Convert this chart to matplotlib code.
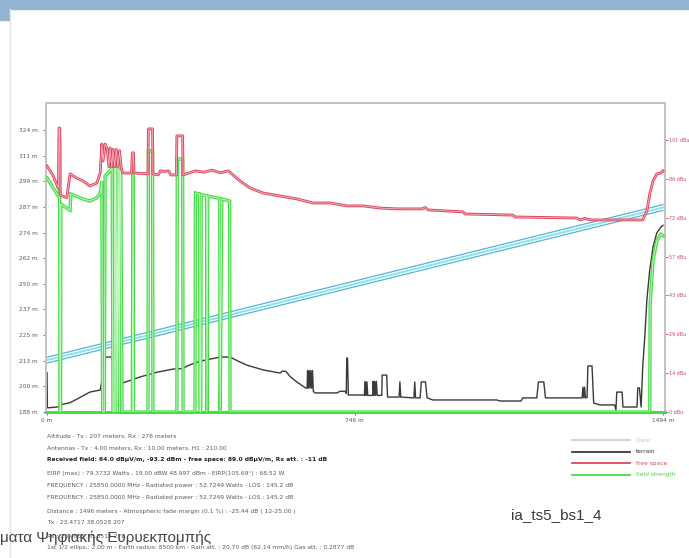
import matplotlib
matplotlib.use("Agg")
import matplotlib.pyplot as plt
from matplotlib.lines import Line2D
from matplotlib.patches import Rectangle

plt.rcParams['font.family'] = ['DejaVu Sans']

W, H = 689, 558

# ---------------- data ----------------
# terrain profile (distance m, elevation m)
terrain_d = [0, 1, 30, 31, 33, 34, 56, 80, 104, 129,
             133, 136, 141, 162, 166, 168, 184, 226, 267, 306,
             330, 340, 371, 420, 444, 468, 485, 524, 565, 572,
             580, 590, 606, 628, 631, 632, 634, 636, 638, 640,
             642, 644, 646, 650, 703, 711, 723, 726, 727, 729,
             731, 766, 770, 771, 773, 774, 776, 778, 790, 791,
             793, 795, 797, 799, 801, 812, 813, 824, 826, 854,
             856, 858, 890, 892, 894, 905, 908, 918, 922, 936,
             1091, 1099, 1150, 1154, 1188, 1192, 1205, 1209, 1298, 1300,
             1302, 1304, 1306, 1310, 1312, 1322, 1326, 1341, 1377, 1380,
             1382, 1395, 1397, 1431, 1433, 1437, 1441, 1443, 1445, 1450,
             1455, 1462, 1470, 1479, 1489, 1494]
terrain_m = [207, 190, 190.5, 197, 197, 191.5, 192.5, 195, 197.6, 198.6,
             203, 212, 214.5, 214.5, 212, 203, 202, 204.9, 207.2, 208.7,
             209, 210.2, 212.5, 214.5, 214.5, 212.1, 210.6, 208.3, 206.8, 207.8,
             207.5, 205, 202.5, 199.5, 199.5, 208, 199.5, 208, 199.5, 208,
             199.5, 208, 198, 197.2, 197.2, 198, 198, 197, 214, 214,
             196.2, 196.2, 196, 202.5, 202.5, 196, 202.5, 196, 196, 202.8,
             196, 202.8, 196, 202.8, 196, 196, 205.8, 205.8, 195.2, 195.2,
             202.5, 195.2, 194.8, 202.5, 194.8, 194.8, 202.5, 202.5, 194.8, 193.8,
             193.8, 193.3, 193.3, 194.8, 194.8, 202.5, 202.5, 194.8, 194.8, 200,
             194.8, 200, 194.8, 195, 210.2, 210.2, 192.3, 191.4, 191.4, 189,
             197.6, 197.6, 190.4, 190.4, 199.6, 199.6, 190.4, 199.6, 210, 224.2,
             242, 256.5, 267.6, 274.3, 277.2, 278]

# line of sight / Fresnel band (m)
los_d = [0, 1494]
los_center = [213.0, 286.6]
los_upper = [214.4, 288.0]
los_lower = [211.6, 285.2]

# free space field (dBu)
free_d = [0, 14, 27, 28, 29, 31, 32, 48, 56, 70,
          87, 104, 121, 129, 133, 136, 141, 146, 150, 153,
          157, 160, 164, 168, 172, 176, 180, 184, 205, 207,
          210, 211, 245, 246, 256, 257, 270, 275, 285, 295,
          300, 314, 315, 329, 330, 340, 360, 380, 400, 420,
          440, 455, 468, 492, 524, 565, 606, 645, 686, 728,
          766, 808, 849, 888, 910, 917, 925, 1009, 1014, 1130,
          1135, 1285, 1293, 1305, 1312, 1324, 1445, 1455, 1462, 1470,
          1479, 1489, 1494]
free_dbu = [91.3, 88, 83.2, 84, 105.4, 105.4, 80.5, 79.5, 88.4, 87,
            85.8, 83.9, 85, 88.7, 99.5, 93.2, 99.5, 97.7, 91, 98,
            91, 97.5, 91, 97.5, 91, 97, 90.5, 88.7, 88.7, 96.2,
            96.2, 88.7, 88.4, 105.1, 105.1, 88.4, 88.0, 89.5, 89.3, 89.5,
            88.0, 88, 102.5, 102.5, 88, 88.5, 89.5, 89, 89.8, 88.8,
            89.5, 87.5, 85.8, 83.2, 81.3, 80.2, 79.1, 77.6, 77.6, 76.5,
            76.5, 75.7, 75.4, 75.4, 75.4, 75.9, 75, 74.3, 73.5, 73.1,
            72.4, 72, 71.3, 71.9, 71.5, 71.3, 71.3, 74.6, 80.9, 85.8,
            88.4, 88.7, 89.5]

# received field strength (dBu)
field_d = [0, 27, 30, 30.5, 31.5, 33, 33.5, 50, 56, 58,
           87, 104, 121, 129, 133, 135, 139, 141, 153, 158,
           160, 163, 164, 166, 167, 170, 171, 174, 176, 177,
           179, 182, 207, 208.5, 210, 245, 246, 256, 257, 315,
           316, 329, 330, 359, 360, 370, 371, 373, 374, 387,
           388, 390, 419, 420, 424, 443, 444, 1462, 1463, 1470,
           1479, 1489, 1494]
field_dbu = [86.9, 80.2, 80, 101.7, 0, 0, 77.2, 75.5, 75, 80.9,
             79.1, 78.3, 79.5, 81.3, 85.8, 0, 0, 87.6, 89.5, 90.6,
             0, 0, 91, 91, 0, 90.5, 0, 90.5, 0, 90,
             90, 0, 0, 96.2, 0, 0, 96.9, 96.9, 0, 0,
             93.9, 93.9, 0, 0, 81.3, 80.9, 0, 0, 80.7, 80.3,
             0, 80.2, 79.3, 0, 79.1, 78.3, 0, 0, 40.1, 56,
             63.5, 66, 65.5]

# axis ticks
m_ticks = [188 + k * 136 / 11 for k in range(12)]
m_labels = ["188 m", "200 m", "213 m", "225 m", "237 m", "250 m",
            "262 m", "274 m", "287 m", "299 m", "311 m", "324 m"]
dbu_ticks = [k * 101 / 7 for k in range(8)]
dbu_labels = ["0 dBu", "14 dBu", "29 dBu", "43 dBu", "57 dBu", "72 dBu", "86 dBu", "101 dBu"]
x_ticks = [0, 746, 1494]
x_labels = ["0 m", "746 m", "1494 m"]

info_lines = [
    "Altitude - Tx : 207 meters, Rx : 276 meters",
    "Antennas - Tx : 4.00 meters, Rx : 10.00 meters, H1 : 210.00",
    "Received field: 64.0 dB\u00b5V/m, -93.2 dBm - free space: 89.0 dB\u00b5V/m, Rx att. : -11 dB",
    "EIRP (max) : 79.3732 Watts , 19.00 dBW 48.997 dBm - EIRP(105.69\u00b0) : 68.52 W",
    "FREQUENCY : 25850.0000 MHz - Radiated power : 52.7249 Watts - LOS : 145.2 dB",
    "FREQUENCY : 25850.0000 MHz - Radiated power : 52.7249 Watts - LOS : 145.2 dB",
    "Distance : 1496 meters - Atmospheric fade margin (0.1 %) : -25.44 dB ( 12-25.00 )",
    "Tx : 23.4717 38.0528 207",
    "Rx : 23.4855 38.0514 276",
    "1st 1/2 ellips.: 2.00 m - Earth radius: 8500 km - Rain att. : 20.70 dB (62.14 mm/h) Gas att. : 0.2877 dB",
]
legend_labels = ["Clear", "terrain", "free space", "field strength"]

# ---------------- colours ----------------
C_RED = "#e0445e"
C_RED_IN = "#f6b9c4"
C_GREEN = "#46dc46"
C_GREEN_IN = "#c6f6c6"
C_BLACK = "#3a3a3a"
C_TXT = "#5a5a5a"


def fx(px):
    return px / W


def fy(py):
    return 1 - py / H


fig = plt.figure(figsize=(W / 100, H / 100), dpi=100)
fig.patch.set_facecolor("white")

# top window bar
fig.patches.append(Rectangle((0, fy(9)), 1, 9 / H, transform=fig.transFigure,
                             color="#93b4d3", zorder=0))
fig.patches.append(Rectangle((0, fy(20)), 9 / W, 20 / H, transform=fig.transFigure,
                             color="#93b4d3", zorder=0))
fig.add_artist(Line2D([fx(10), fx(10)], [fy(9), fy(558)], transform=fig.transFigure,
                      color="#e6e6e6", lw=1.0))

ax = fig.add_axes([fx(46), fy(412), (665 - 46) / W, (412 - 103) / H])
ax.set_xlim(-2.4, 1499)
ax.set_ylim(188, 337)
ax2 = ax.twinx()
ax2.set_ylim(0, 114.7)

# left-axis series
ax.plot(los_d, los_upper, color="#56b2d8", lw=0.9, zorder=3)
ax.plot(los_d, los_lower, color="#56b2d8", lw=0.9, zorder=3)
ax.plot(los_d, los_center, color="#86e4ef", lw=1.4, zorder=3)
ax.plot(terrain_d, terrain_m, color=C_BLACK, lw=1.0, zorder=4)

# right-axis series
ax2.plot(field_d, field_dbu, color=C_GREEN, lw=2.4, zorder=3, solid_joinstyle="miter")
ax2.plot(field_d, field_dbu, color=C_GREEN_IN, lw=0.7, zorder=3)
ax2.plot(free_d, free_dbu, color=C_RED, lw=2.0, zorder=4)
ax2.plot(free_d, free_dbu, color=C_RED_IN, lw=0.6, zorder=4)

for a in (ax, ax2):
    for s in a.spines.values():
        s.set_color("#c4c4c4")
        s.set_linewidth(1.3)
    a.spines["bottom"].set_color(C_GREEN)
    a.spines["bottom"].set_linewidth(2.0)

ax.set_yticks(m_ticks, m_labels)
ax.tick_params(axis="y", labelsize=4.2, colors=C_TXT, length=2, width=0.6, pad=4)
ax.set_xticks(x_ticks, x_labels)
ax.tick_params(axis="x", labelsize=4.2, colors=C_TXT, length=2, width=0.6, pad=2)
ax2.set_yticks(dbu_ticks, dbu_labels)
ax2.tick_params(axis="y", labelsize=3.5, colors="#d8406a", length=2, width=0.6, pad=1)

# information block
info_y = [436, 448, 460, 473, 486, 498, 511, 523, 536, 548]
for i, (txt, yy) in enumerate(zip(info_lines, info_y)):
    fig.text(fx(47), fy(yy), txt, fontsize=4.3, va="center", ha="left",
             color="#222222" if i == 2 else C_TXT,
             fontweight="bold" if i == 2 else "normal")

# legend
leg_colors = ["#cfcfcf", C_BLACK, C_RED, C_GREEN]
leg_txt_colors = ["#c4c4c4", "#333333", C_RED, C_GREEN]
for k, (lab, c, tc) in enumerate(zip(legend_labels, leg_colors, leg_txt_colors)):
    yy = 440 + k * 11.5
    fig.add_artist(Line2D([fx(572), fx(630)], [fy(yy), fy(yy)], transform=fig.transFigure,
                          color=c, lw=1.3))
    fig.text(fx(636), fy(yy), lab, fontsize=4.2, color=tc, va="center", ha="left")

fig.text(fx(511), fy(515), "ia_ts5_bs1_4", fontsize=11, color="#3a3a3a",
         va="center", ha="left", family=["Liberation Sans", "DejaVu Sans"])
fig.text(fx(0), fy(538), "\u03bc\u03b1\u03c4\u03b1 \u03a8\u03b7\u03c6\u03b9\u03b1\u03ba\u03ae\u03c2 \u0395\u03c5\u03c1\u03c5\u03b5\u03ba\u03c0\u03bf\u03bc\u03c0\u03ae\u03c2",
         fontsize=11, color="#454545", va="center", ha="left",
         family=["Liberation Sans", "DejaVu Sans"])

fig.savefig("out.png", dpi=100)
